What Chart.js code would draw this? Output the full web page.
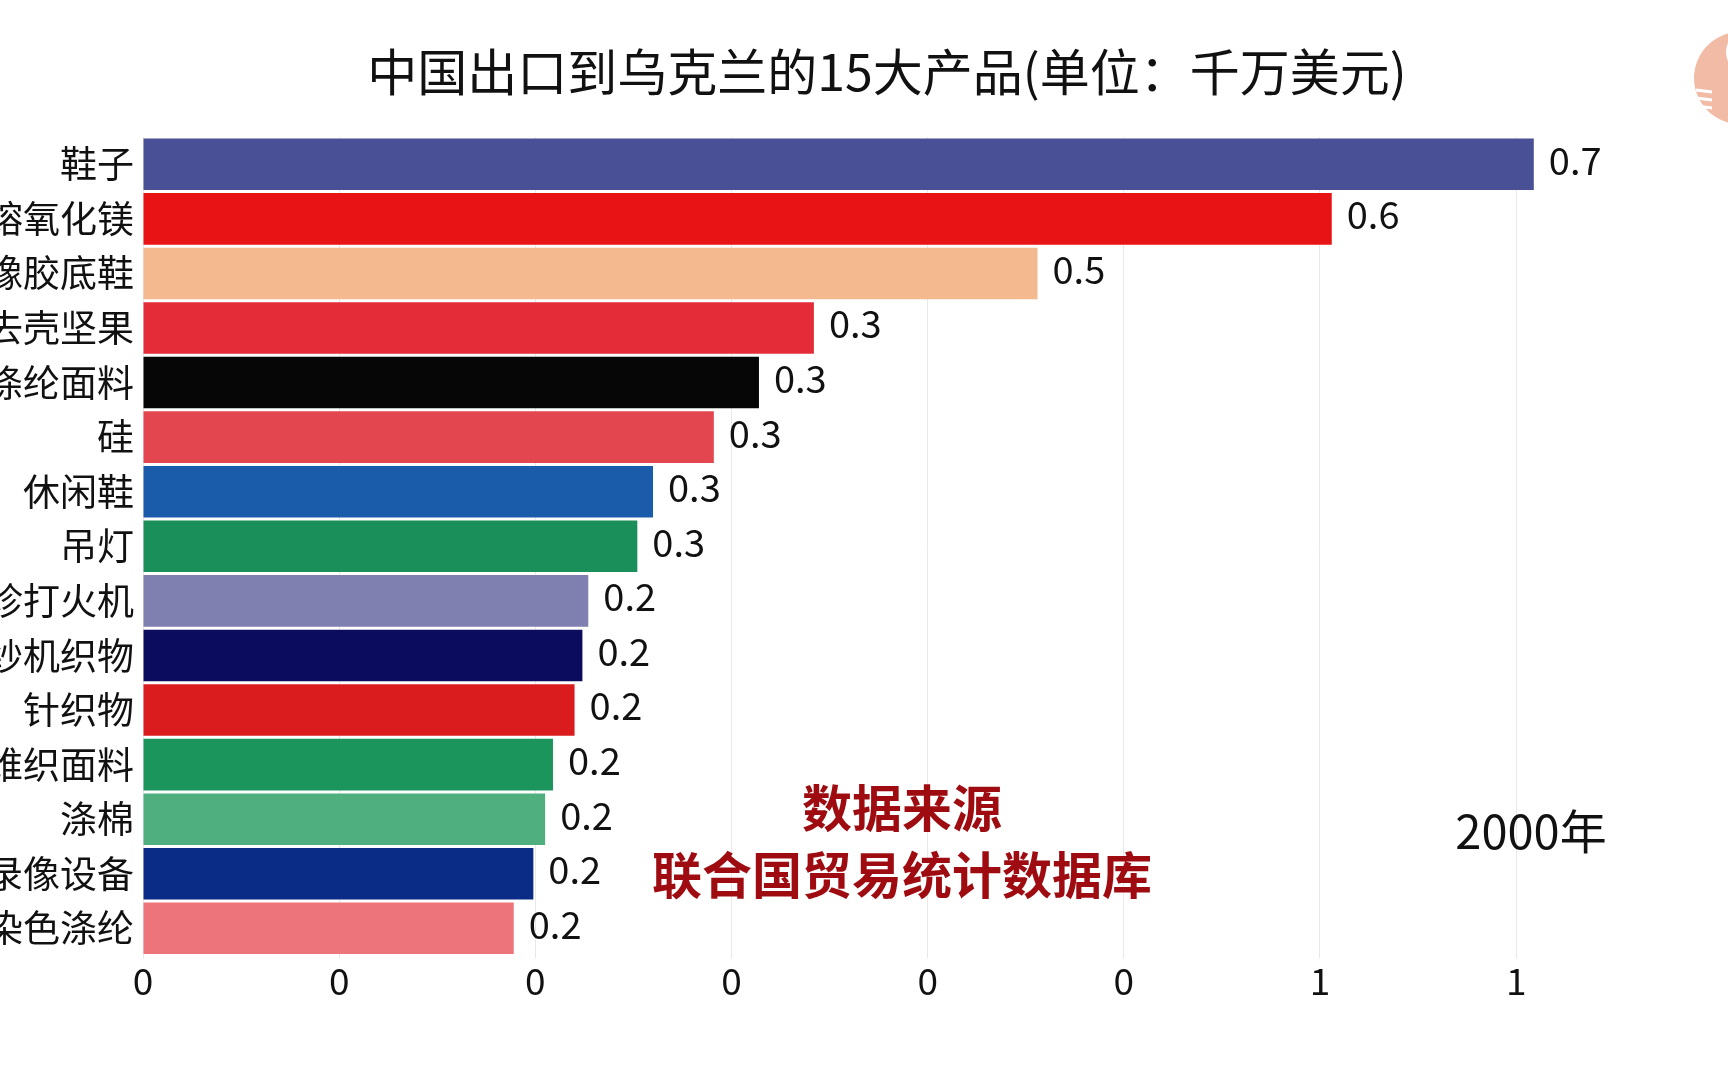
<!DOCTYPE html>
<html>
<head>
<meta charset="utf-8">
<script src="https://cdn.jsdelivr.net/npm/chart.js@4"></script>
<style>
  html, body { margin: 0; padding: 0; background: #fff; }
  #wrap { width: 1728px; height: 1080px; }
</style>
</head>
<body>
<div id="wrap"><canvas id="myChart" width="1728" height="1080"></canvas></div>
<script>
// data (千万美元, year 2000)
var categories = ['鞋子', '熔氧化镁', '橡胶底鞋', '去壳坚果', '涤纶面料', '硅', '休闲鞋', '吊灯',
  '袖珍打火机', '纱机织物', '针织物', '纤维织面料', '涤棉', '录像设备', '染色涤纶'];
var values = [0.709, 0.606, 0.456, 0.342, 0.314, 0.291, 0.26, 0.252, 0.227, 0.224, 0.22, 0.209, 0.205, 0.199, 0.189];
var colors = ['#4a5096', '#e81315', '#f4b98f', '#e32c37', '#060606', '#e4464f', '#1a5ca9', '#1b8f5a',
  '#7f7fb0', '#0c0c5e', '#da1c1e', '#1c955c', '#4faf7f', '#0b2c86', '#ec747a'];
var tickLabels = ['0', '0', '0', '0', '0', '0', '1', '1'];
var titleText = '中国出口到乌克兰的15大产品(单位：千万美元)';
var yearText = '2000年';
var sourceLines = ['数据来源', '联合国贸易统计数据库'];

var FONT = '"Noto Sans CJK SC", "Noto Sans", sans-serif';

// value labels at the end of each bar
var valueLabels = {
  id: 'valueLabels',
  afterDatasetsDraw: function(chart) {
    var ctx = chart.ctx;
    var meta = chart.getDatasetMeta(0);
    ctx.save();
    ctx.font = '38px ' + FONT;
    ctx.fillStyle = '#111';
    ctx.textAlign = 'left';
    ctx.textBaseline = 'middle';
    meta.data.forEach(function(bar, i) {
      ctx.fillText(values[i].toFixed(1), bar.x + 15, bar.y - 4);
    });
    ctx.restore();
  }
};

// title, source note, year and the little logo
var extras = {
  id: 'extras',
  afterDraw: function(chart) {
    var ctx = chart.ctx;
    ctx.save();
    ctx.textAlign = 'center';
    ctx.textBaseline = 'middle';

    ctx.fillStyle = '#111';
    ctx.font = '50px ' + FONT;
    ctx.fillText(titleText, 887, 72);

    ctx.fillStyle = '#9e0b10';
    ctx.font = 'bold 50px ' + FONT;
    ctx.fillText(sourceLines[0], 902, 808);
    ctx.fillText(sourceLines[1], 902, 875);

    ctx.fillStyle = '#111';
    ctx.font = '47px ' + FONT;
    ctx.fillText(yearText, 1531, 831);

    // logo
    ctx.fillStyle = '#f1bba5';
    ctx.beginPath();
    ctx.arc(1740, 78, 46, 0, Math.PI * 2);
    ctx.fill();
    ctx.strokeStyle = '#fff';
    ctx.lineWidth = 4;
    ctx.beginPath();
    ctx.arc(1748, 52, 20, Math.PI * 0.5, Math.PI * 1.2);
    ctx.stroke();
    ctx.lineWidth = 3;
    for (var k = 0; k < 3; k++) {
      ctx.beginPath();
      ctx.moveTo(1696, 90 + k * 8);
      ctx.lineTo(1712, 92 + k * 8);
      ctx.stroke();
    }
    ctx.restore();
  }
};

var ctx = document.getElementById('myChart').getContext('2d');

var chart = new Chart(ctx, {
  type: 'bar',
  data: {
    labels: categories,
    datasets: [{
      data: values,
      backgroundColor: colors,
      borderWidth: 0,
      barPercentage: 0.945,
      categoryPercentage: 1
    }]
  },
  options: {
    indexAxis: 'y',
    responsive: false,
    animation: false,
    layout: { padding: { left: 0, right: 0, top: 137, bottom: 77 } },
    plugins: {
      legend: { display: false },
      tooltip: { enabled: false },
      title: { display: false }
    },
    scales: {
      x: {
        min: 0,
        max: 0.808,
        afterBuildTicks: function(scale) {
          scale.ticks = scale.ticks.filter(function(t) { return t.value <= 0.7001; });
        },
        ticks: {
          stepSize: 0.1,
          color: '#111',
          padding: 0,
          font: { family: FONT, size: 37 },
          callback: function(v, i) { return tickLabels[i]; }
        },
        grid: { color: '#e9e9e9', lineWidth: 1, tickLength: 3, drawTicks: true },
        border: { display: false }
      },
      y: {
        afterFit: function(scale) { scale.width = 143; },
        ticks: {
          color: '#111',
          padding: 1,
          font: { family: FONT, size: 37 }
        },
        grid: { display: false },
        border: { display: false }
      }
    }
  },
  plugins: [valueLabels, extras]
});
</script>
</body>
</html>
